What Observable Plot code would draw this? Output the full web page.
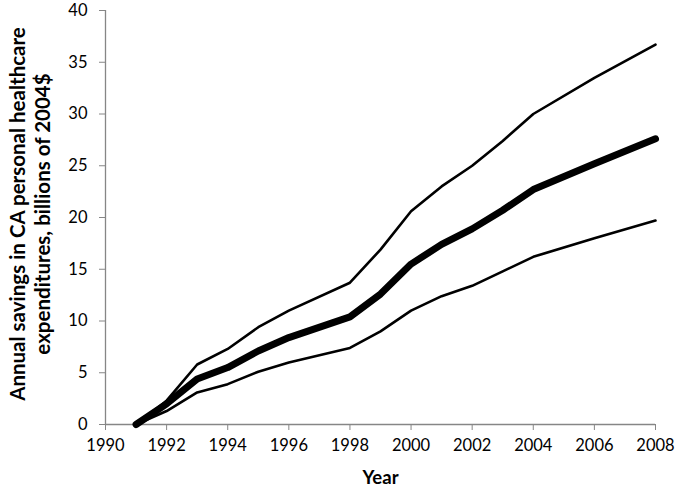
<!DOCTYPE html>
<html>
<head>
<meta charset="utf-8">
<script src="https://cdn.jsdelivr.net/npm/d3@7"></script>
<script src="https://cdn.jsdelivr.net/npm/@observablehq/plot@0.6"></script>
<style>
  html, body { margin: 0; padding: 0; background: #fff; }
  #chart { width: 676px; height: 496px; }
</style>
</head>
<body>
<div id="chart"></div>
<script>
const years = [1991, 1992, 1993, 1994, 1995, 1996, 1998, 1999, 2000, 2001, 2002, 2003, 2004, 2006, 2008];
const central = [0, 2.0, 4.4, 5.5, 7.1, 8.4, 10.4, 12.6, 15.5, 17.4, 18.9, 20.7, 22.7, 25.2, 27.6];
const upper   = [0, 2.3, 5.8, 7.3, 9.4, 11.0, 13.7, 16.9, 20.6, 23.0, 25.0, 27.4, 30.0, 33.5, 36.7];
const lower   = [0, 1.3, 3.1, 3.9, 5.1, 6.0, 7.4, 9.0, 11.0, 12.4, 13.4, 14.8, 16.2, 18.0, 19.7];
const xTicks = [1990, 1992, 1994, 1996, 1998, 2000, 2002, 2004, 2006, 2008];
const yTicks = [0, 5, 10, 15, 20, 25, 30, 35, 40];

const toRows = vals => years.map((y, i) => ({year: y, value: vals[i]}));
const axisGray = "#868686";

const chart = Plot.plot({
  width: 676,
  height: 496,
  marginLeft: 105,
  marginRight: 21,
  marginTop: 10,
  marginBottom: 72,
  style: {fontFamily: "Lato, 'Open Sans', sans-serif", fontSize: "16.5px", color: "#000", background: "#fff"},
  x: {domain: [1990, 2008]},
  y: {domain: [0, 40]},
  marks: [
    Plot.ruleX([1990], {stroke: axisGray, strokeWidth: 1.3}),
    Plot.ruleY([0], {stroke: axisGray, strokeWidth: 1.3}),
    Plot.axisX({ticks: xTicks, tickFormat: "d", tickSize: 6, stroke: axisGray, tickPadding: 9, fontSize: 16.5, fill: "#000", label: null}),
    Plot.axisY({ticks: yTicks, tickSize: 6, stroke: axisGray, tickPadding: 12, fontSize: 16.5, fill: "#000", label: null}),
    Plot.line(toRows(upper), {x: "year", y: "value", stroke: "#000", strokeWidth: 2.6}),
    Plot.line(toRows(lower), {x: "year", y: "value", stroke: "#000", strokeWidth: 2.6}),
    Plot.line(toRows(central), {x: "year", y: "value", stroke: "#000", strokeWidth: 7}),
    Plot.text(["Year"], {frameAnchor: "bottom", dy: 59, fontWeight: "bold", fontSize: 18.5, fill: "#000"}),
    Plot.text(["Annual savings in CA personal healthcare\nexpenditures, billions of 2004$"], {
      frameAnchor: "left", dx: -76.5, dy: -3.5, rotate: -90, fontWeight: "bold", fontSize: 20.5, lineHeight: 1.22, fill: "#000", textAnchor: "middle"
    })
  ]
});
document.getElementById("chart").appendChild(chart);
</script>
</body>
</html>
